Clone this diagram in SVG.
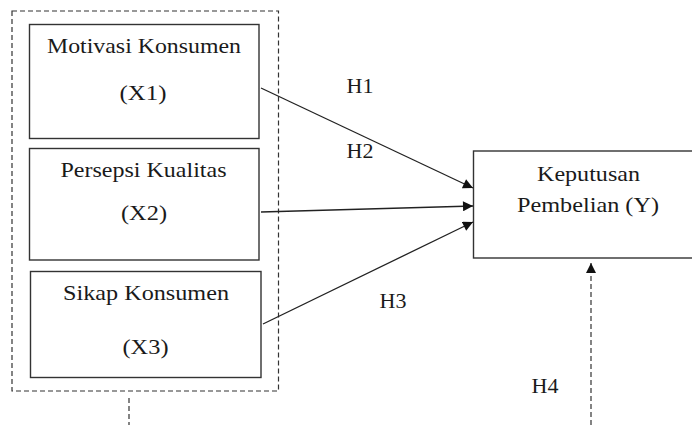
<svg xmlns="http://www.w3.org/2000/svg" width="692" height="425" viewBox="0 0 692 425">
<style>
.box{fill:#fff;stroke:#333;stroke-width:1.4}
.dash{fill:none;stroke:#333;stroke-width:1.2;stroke-dasharray:5 3}
.t{font-family:"Liberation Serif","Times New Roman",serif;font-size:22px;fill:#1a1a1a;text-anchor:middle}
.c{fill:none;stroke:#222;stroke-width:1.3}
</style>
<defs>
<marker id="ah" viewBox="0 0 10 10" refX="10" refY="5" markerWidth="11" markerHeight="10" markerUnits="userSpaceOnUse" orient="auto">
<path d="M0,0 L10,5 L0,10 z" fill="#111"/>
</marker>
</defs>
<rect width="692" height="425" fill="#fff"/>
<g id="group-x">
<rect class="dash" x="12" y="11" width="266.5" height="380"/>
<line class="dash" x1="129" y1="398" x2="129" y2="425"/>
</g>
<g id="x1">
<rect class="box" x="29.5" y="24.5" width="229.5" height="114"/>
<text class="t" x="144" y="53" textLength="194" lengthAdjust="spacingAndGlyphs">Motivasi Konsumen</text>
<text class="t" x="143" y="100" textLength="47" lengthAdjust="spacingAndGlyphs">(X1)</text>
</g>
<g id="x2">
<rect class="box" x="29.5" y="148.5" width="229.5" height="111.5"/>
<text class="t" x="143.5" y="177" textLength="166" lengthAdjust="spacingAndGlyphs">Persepsi Kualitas</text>
<text class="t" x="144" y="220" textLength="46" lengthAdjust="spacingAndGlyphs">(X2)</text>
</g>
<g id="x3">
<rect class="box" x="30.5" y="271.5" width="230.5" height="106"/>
<text class="t" x="146" y="300" textLength="166" lengthAdjust="spacingAndGlyphs">Sikap Konsumen</text>
<text class="t" x="145.5" y="354" textLength="46" lengthAdjust="spacingAndGlyphs">(X3)</text>
</g>
<g id="y">
<rect class="box" x="473.5" y="151" width="230" height="107"/>
<text class="t" x="588.5" y="180.5" textLength="103" lengthAdjust="spacingAndGlyphs">Keputusan</text>
<text class="t" x="588" y="211.5" textLength="142" lengthAdjust="spacingAndGlyphs">Pembelian (Y)</text>
</g>
<g id="connectors">
<line class="c" x1="261" y1="88" x2="473" y2="188" marker-end="url(#ah)"/>
<line class="c" x1="261" y1="212" x2="473" y2="206" marker-end="url(#ah)"/>
<line class="c" x1="263" y1="324" x2="473" y2="222" marker-end="url(#ah)"/>
<line class="dash" x1="591" y1="425" x2="591" y2="263" stroke="#222" marker-end="url(#ah)"/>
</g>
<g id="labels">
<text class="t" x="360" y="93">H1</text>
<text class="t" x="360" y="158">H2</text>
<text class="t" x="393" y="308">H3</text>
<text class="t" x="545" y="393">H4</text>
</g>
</svg>
